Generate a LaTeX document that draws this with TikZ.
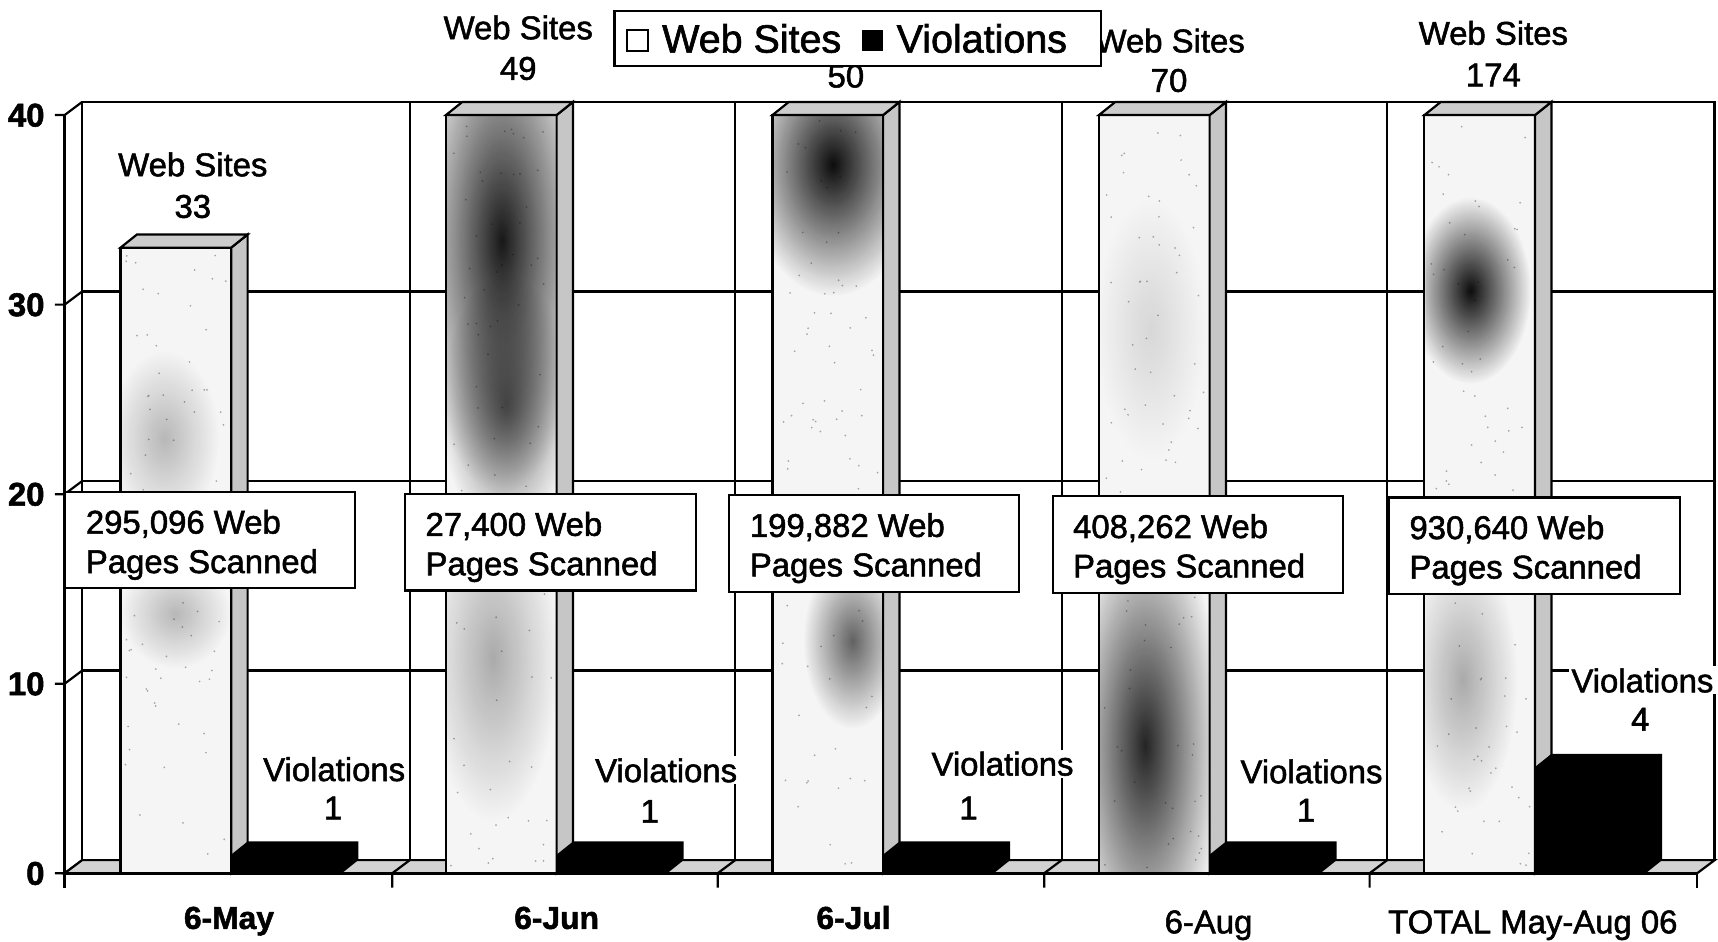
\documentclass[tikz,border=0pt]{standalone}
\usepackage{fontspec}
\setmainfont{Liberation Sans}[FakeBold=1.6]
\usetikzlibrary{fadings}
\tikzfading[name=softblob, inner color=transparent!0, outer color=transparent!100]
\begin{document}
\begin{tikzpicture}[x=0.5pt,y=-0.5pt, line join=miter,
  ln/.style={line width=1pt},
  webfront/.style={fill=gray!8, draw=black, line width=1pt},
  webside/.style={fill=gray!45, draw=black, line width=1pt},
  webtop/.style={fill=gray!40, draw=black, line width=1pt},
  blob/.style={fill=black, path fading=softblob},
  lbl/.style={font=\fontsize{15}{18}\selectfont, inner sep=1pt, text height=10.8pt, text depth=0pt},
  wlbl/.style={lbl, fill=white},
  ylbl/.style={font=\bfseries\fontsize{15}{16}\selectfont, anchor=east, inner sep=0pt, text height=10.5pt, text depth=0pt},
  catlbl/.style={font=\fontsize{15}{18}\selectfont, inner sep=0pt, text height=10.8pt, text depth=0pt},
  catbold/.style={catlbl, font=\bfseries\fontsize{14.5}{18}\selectfont},
  pbox/.style={draw, fill=white, line width=1pt, minimum width=132.5pt, minimum height=44pt, inner sep=0pt, anchor=north west},
  ptxt/.style={font=\fontsize{15}{18}\selectfont, anchor=base west, inner sep=0pt},
  legtxt/.style={font=\fontsize{18}{20}\selectfont, anchor=base west, inner sep=0pt},
]
\useasboundingbox (0,0) rectangle (1568,859);
% back wall
\draw[line width=1.2pt, fill=white] (75,93) rectangle (1565,785);
\foreach \v in {612,439,266} \draw[ln] (75,\v) -- (1565,\v);
\foreach \x in {374,671,969,1266} \draw[ln] (\x,93) -- (\x,785);
% left wall
\draw[line width=1.2pt] (59,105) -- (59,810);
\foreach \yf in {105,278,451,624,797} {\draw[ln] (50,\yf) -- (59,\yf) -- (75,\yf-12);}
% floor
\draw[ln, fill=gray!35] (59,797) -- (1549,797) -- (1565,785) -- (75,785) -- cycle;
\foreach \t in {358,655,953,1250} \draw[ln] (\t,810) -- (\t,797) -- (\t+16,785);
\draw[ln] (1549,810) -- (1549,797);
\draw[line width=1.4pt] (59,797) -- (1549,797);
% web site bars
\pgfmathsetseed{11}
\foreach \L/\T in {110/226, 407/105, 705/105, 1003/105, 1300/105} {
  \draw[webfront] (\L,797) rectangle (\L+101,\T);
  \foreach \i in {1,...,90} {\fill[gray!70] ({\L+4+rnd*93},{\T+4+rnd*(789-\T)}) circle (0.9);}
  \draw[webside] (\L+101,797) -- (\L+116,785) -- (\L+116,\T-12) -- (\L+101,\T) -- cycle;
  \draw[webtop] (\L,\T) -- (\L+15,\T-12) -- (\L+116,\T-12) -- (\L+101,\T) -- cycle;
}
% dark blotches on the fronts
\begin{scope}
  \clip (111,796) rectangle (210,227);
  \fill[blob, opacity=0.25] (150,400) ellipse (50 and 80);
  \fill[blob, opacity=0.25] (160,560) ellipse (50 and 50);
\end{scope}
\begin{scope}
  \clip (408,796) rectangle (507,106);
  \fill[blob, opacity=0.9] (458,220) ellipse (80 and 230);
  \fill[blob, opacity=0.6] (462,370) ellipse (60 and 120);
  \fill[blob, opacity=0.3] (450,600) ellipse (60 and 150);
\end{scope}
\begin{scope}
  \clip (706,796) rectangle (805,106);
  \fill[blob, opacity=0.95] (760,150) ellipse (80 and 120);
  \fill[blob, opacity=0.6] (778,585) ellipse (45 and 80);
\end{scope}
\begin{scope}
  \clip (1004,796) rectangle (1103,106);
  \fill[blob, opacity=0.85] (1045,680) ellipse (70 and 210);
  \fill[blob, opacity=0.12] (1050,300) ellipse (50 and 120);
\end{scope}
\begin{scope}
  \clip (1301,796) rectangle (1400,106);
  \fill[blob, opacity=0.95] (1342,265) ellipse (55 and 85);
  \fill[blob, opacity=0.3] (1335,620) ellipse (50 and 120);
\end{scope}
% violation bars
\foreach \L/\T in {211/780, 508/780, 806/780, 1104/780, 1401/700} {
  \fill[black] (\L,797) -- (\L,\T) -- (\L+15,\T-12) -- (\L+116,\T-12) -- (\L+116,785) -- (\L+101,797) -- cycle;
}
% axis labels
\node[ylbl] (y40) at (41,105) {40};
\node[ylbl] (y30) at (41,278) {30};
\node[ylbl] (y20) at (41,451) {20};
\node[ylbl] (y10) at (41,624) {10};
\node[ylbl] (y0) at (41,797) {0};
\node[catbold] (c1) at (209,837) {6-May};
\node[catbold] (c2) at (508,837) {6-Jun};
\node[catbold] (c3) at (779,837) {6-Jul};
\node[catlbl] (c4) at (1103,841) {6-Aug};
\node[catlbl] (c5) at (1399,841) {TOTAL May-Aug 06};
% web site labels
\node[lbl] (ws1) at (176,150) {Web Sites};
\node[lbl] (wn1) at (176,188) {33};
\node[lbl] (ws2) at (473,25) {Web Sites};
\node[lbl] (wn2) at (473,62) {49};
\node[lbl] (wn3) at (772,69) {50};
\node[lbl] (ws4) at (1068,37) {Web Sites};
\node[lbl] (wn4) at (1067,73) {70};
\node[lbl] (ws5) at (1363,30) {Web Sites};
\node[lbl] (wn5) at (1363,68) {174};
% violation labels
\node[wlbl] (vl1) at (305,702) {Violations};
\node[wlbl] (vn1) at (304,737) {1};
\node[wlbl] (vl2) at (608,703) {Violations};
\node[wlbl] (vn2) at (593,740) {1};
\node[wlbl] (vl3) at (915,697) {Violations};
\node[wlbl] (vn3) at (884,737) {1};
\node[wlbl] (vl4) at (1197,704) {Violations};
\node[wlbl] (vn4) at (1192,739) {1};
\node[wlbl] (vl5) at (1499,621) {Violations};
\node[wlbl] (vn5) at (1497,656) {4};
% pages scanned boxes
\node[pbox] (pb1) at (58,448) {};
\node[ptxt] (pa1) at (78,487) {295,096 Web};
\node[ptxt] (pc1) at (78,523) {Pages Scanned};
\node[pbox] (pb2) at (369,450) {};
\node[ptxt] (pa2) at (388,489) {27,400 Web};
\node[ptxt] (pc2) at (388,525) {Pages Scanned};
\node[pbox] (pb3) at (664,451) {};
\node[ptxt] (pa3) at (684,490) {199,882 Web};
\node[ptxt] (pc3) at (684,526) {Pages Scanned};
\node[pbox] (pb4) at (960,452) {};
\node[ptxt] (pa4) at (979,491) {408,262 Web};
\node[ptxt] (pc4) at (979,527) {Pages Scanned};
\node[pbox] (pb5) at (1267,453) {};
\node[ptxt] (pa5) at (1286,492) {930,640 Web};
\node[ptxt] (pc5) at (1286,528) {Pages Scanned};
% legend
\node[draw, fill=white, line width=1.1pt, minimum width=222pt, minimum height=25pt, inner sep=0pt] (leg) at (783,35) {};
\node[draw, fill=white, line width=0.8pt, minimum size=9.5pt, inner sep=0pt] (legsq1) at (582,37) {};
\node[fill=black, minimum size=9.5pt, inner sep=0pt] (legsq2) at (796,37) {};
\node[legtxt] (legw) at (604,48) {Web Sites};
\node[legtxt] (legv) at (818,48) {Violations};
\end{tikzpicture}
\end{document}
